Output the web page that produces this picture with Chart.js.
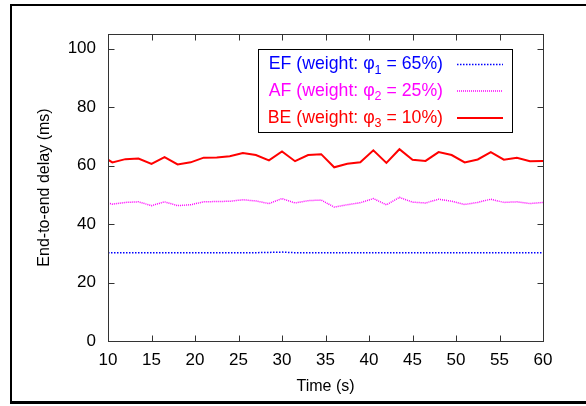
<!DOCTYPE html>
<html><head><meta charset="utf-8">
<script src="https://cdn.jsdelivr.net/npm/chart.js@4"></script>
<style>html,body{margin:0;padding:0;background:#fff;overflow:hidden}</style>
</head><body>
<canvas id="c" width="586" height="406"></canvas>
<script>
const timeS = [10,10.5,12,13.5,15,16.5,18,19.5,21,22.5,24,25.5,27,28.5,30,31.5,33,34.5,36,37.5,39,40.5,42,43.5,45,46.5,48,49.5,51,52.5,54,55.5,57,58.5,60];
const efDelay = [30.2,30.2,30.2,30.2,30.2,30.2,30.2,30.2,30.2,30.2,30.2,30.2,30.2,30.3,30.4,30.2,30.2,30.2,30.2,30.2,30.2,30.2,30.2,30.2,30.2,30.2,30.2,30.2,30.2,30.2,30.2,30.2,30.2,30.2,30.2];
const afDelay = [47.2,46.8,47.4,47.6,46.3,47.6,46.3,46.6,47.6,47.7,47.8,48.3,47.9,47.0,48.7,47.2,48.0,48.2,45.8,46.6,47.3,48.7,46.6,49.1,47.5,47.2,48.5,47.8,46.7,47.4,48.5,47.4,47.6,47.0,47.4];
const beDelay = [62.0,61.1,62.2,62.4,60.6,62.9,60.4,61.1,62.7,62.8,63.2,64.3,63.6,61.8,64.8,61.5,63.6,63.9,59.4,60.6,61.1,65.2,60.9,65.6,62.0,61.6,64.6,63.6,61.1,62.1,64.6,62.0,62.7,61.5,61.6];
const xTicks = [10,15,20,25,30,35,40,45,50,55,60];
const yTicks = [0,20,40,60,80,100];
const seriesNames = ['EF','AF','BE'];
const weightSubs = ['1','2','3'];
const weightPcts = ['65%','25%','10%'];

const FONT = '"Liberation Sans", Arial, Helvetica, sans-serif';
const colors = ['#0000ff','#ff00ff','#ff0000'];
const dashes = [[1.5,1.5],[1,1],[]];
const widths = [1.5,1.5,2];

function pts(ys){ return timeS.map((t,i)=>({x:t,y:ys[i]})); }

const framePlugin = {
  id:'frame',
  afterDraw(chart){
    const ctx = chart.ctx, a = chart.chartArea;
    const xs = chart.scales.x, ys = chart.scales.y;
    ctx.save();
    ctx.fillStyle = '#000';
    ctx.fillRect(10,4,2,399);
    ctx.fillRect(10,4,580,2);
    ctx.fillRect(10,401,580,3);
    ctx.strokeStyle = '#333';
    ctx.lineWidth = 1;
    const L = Math.round(a.left)+0.5, R = Math.round(a.right)+0.5, T = Math.round(a.top)+0.5, B = Math.round(a.bottom)+0.5;
    ctx.strokeRect(L,T,R-L,B-T);
    ctx.beginPath();
    const tl = 6;
    xTicks.forEach(v=>{
      const px = Math.round(xs.getPixelForValue(v))+0.5;
      ctx.moveTo(px,B); ctx.lineTo(px,B-tl);
      ctx.moveTo(px,T); ctx.lineTo(px,T+tl);
    });
    yTicks.forEach(v=>{
      const py = Math.round(ys.getPixelForValue(v))+0.5;
      ctx.moveTo(L,py); ctx.lineTo(L+tl,py);
      ctx.moveTo(R,py); ctx.lineTo(R-tl,py);
    });
    ctx.stroke();
    ctx.fillStyle = '#fff';
    ctx.fillRect(258,49,254,83);
    ctx.strokeStyle = '#000';
    ctx.strokeRect(258.5,49.5,254,83);
    const rowsY = [64.5,91,118];
    const rightX = 443;
    const big = '17.7px '+FONT, small = '12.5px '+FONT;
    for(let i=0;i<3;i++){
      const pre = seriesNames[i]+' (weight: \u03C6';
      const sub = weightSubs[i];
      const post = ' = '+weightPcts[i]+')';
      ctx.font = big; const wPre = ctx.measureText(pre).width, wPost = ctx.measureText(post).width;
      ctx.font = small; const wSub = ctx.measureText(sub).width;
      let x = rightX - wPre - wSub - wPost;
      const y = rowsY[i];
      ctx.fillStyle = colors[i];
      ctx.textBaseline = 'middle'; ctx.textAlign = 'left';
      ctx.font = big; ctx.fillText(pre,x,y); x += wPre;
      ctx.font = small; ctx.fillText(sub,x,y+6); x += wSub;
      ctx.font = big; ctx.fillText(post,x,y);
      ctx.beginPath();
      ctx.strokeStyle = colors[i]; ctx.lineWidth = widths[i]; ctx.setLineDash(dashes[i]);
      ctx.moveTo(457,y); ctx.lineTo(503,y); ctx.stroke();
      ctx.setLineDash([]);
    }
    ctx.restore();
  }
};

new Chart(document.getElementById('c'), {
  type:'line',
  data:{datasets:[
    {label:'EF', data:pts(efDelay), borderColor:colors[0], borderWidth:widths[0], borderDash:dashes[0], pointRadius:0, fill:false, tension:0},
    {label:'AF', data:pts(afDelay), borderColor:colors[1], borderWidth:widths[1], borderDash:dashes[1], pointRadius:0, fill:false, tension:0},
    {label:'BE', data:pts(beDelay), borderColor:colors[2], borderWidth:widths[2], borderDash:dashes[2], pointRadius:0, fill:false, tension:0}
  ]},
  options:{
    responsive:false, animation:false, devicePixelRatio:1,
    layout:{padding:{left:0,right:43,top:34,bottom:0}},
    plugins:{legend:{display:false}, tooltip:{enabled:false}},
    scales:{
      x:{type:'linear', min:10, max:60,
        afterBuildTicks(s){ s.ticks = xTicks.map(v=>({value:v})); },
        afterFit(s){ s.height = 65; },
        grid:{display:false}, border:{display:false},
        ticks:{color:'#000', font:{family:FONT,size:17}, padding:1, maxRotation:0, autoSkip:false},
        title:{display:true, text:'Time (s)', color:'#000', font:{family:FONT,size:16}, padding:{top:0,bottom:10}}
      },
      y:{min:0, max:105,
        afterBuildTicks(s){ s.ticks = yTicks.map(v=>({value:v})); },
        afterFit(s){ s.width = 108; },
        grid:{display:false}, border:{display:false},
        ticks:{color:'#000', font:{family:FONT,size:17}, padding:4},
        title:{display:true, text:'End-to-end delay (ms)', color:'#000', font:{family:FONT,size:16}, padding:{top:35,bottom:0}}
      }
    }
  },
  plugins:[framePlugin]
});
</script>
</body></html>
